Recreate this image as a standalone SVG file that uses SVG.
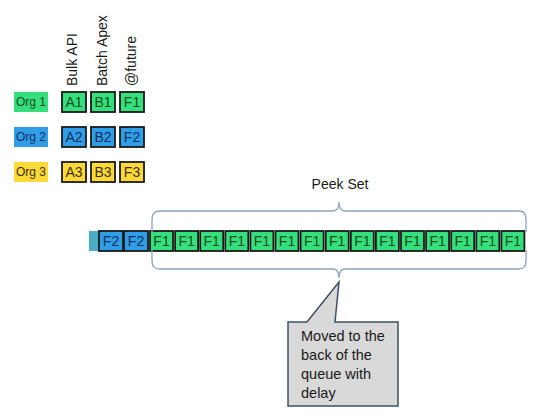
<svg xmlns="http://www.w3.org/2000/svg" width="540" height="420" viewBox="0 0 540 420">
<style>
text{font-family:"Liberation Sans",Arial,sans-serif}
.lbl{font-size:12px;text-anchor:middle}
.bx{stroke:#1a1a1a;stroke-width:1.8}
.g{fill:#35e07c}.b{fill:#2f9ee6}.y{fill:#ffd937}
.tg{fill:#0b4d22}.tb{fill:#0d2f5c}.ty{fill:#3d3000}
.bt{font-size:14px;text-anchor:middle}
.hd{font-size:14px;fill:#1a1a1a}
.brace{fill:none;stroke:#8fa3c2;stroke-width:1.3}
</style>
<defs>
<g id="qf1"><rect class="bx g" x="0" y="0" width="23" height="20"/><text class="bt tg" x="11.5" y="15">F1</text></g>
</defs>
<g id="headers">
<text class="hd" transform="translate(77,86) rotate(-90)">Bulk API</text>
<text class="hd" transform="translate(107,86) rotate(-90)">Batch Apex</text>
<text class="hd" transform="translate(136,86) rotate(-90)">@future</text>
</g>
<g id="org1"><rect class="g" x="14" y="92" width="34" height="20"/><text class="lbl tg" x="31" y="106">Org 1</text></g>
<g id="org2"><rect class="b" x="14" y="127" width="34" height="20"/><text class="lbl tb" x="31" y="141">Org 2</text></g>
<g id="org3"><rect class="y" x="14" y="162" width="34" height="20"/><text class="lbl ty" x="31" y="176">Org 3</text></g>
<g id="A1"><rect class="bx g" x="62" y="92" width="24" height="20"/><text class="bt tg" x="74" y="107">A1</text></g>
<g id="B1"><rect class="bx g" x="91" y="92" width="24" height="20"/><text class="bt tg" x="103" y="107">B1</text></g>
<g id="F1"><rect class="bx g" x="120" y="92" width="24" height="20"/><text class="bt tg" x="132" y="107">F1</text></g>
<g id="A2"><rect class="bx b" x="62" y="127" width="24" height="20"/><text class="bt tb" x="74" y="142">A2</text></g>
<g id="B2"><rect class="bx b" x="91" y="127" width="24" height="20"/><text class="bt tb" x="103" y="142">B2</text></g>
<g id="F2"><rect class="bx b" x="120" y="127" width="24" height="20"/><text class="bt tb" x="132" y="142">F2</text></g>
<g id="A3"><rect class="bx y" x="62" y="162" width="24" height="20"/><text class="bt ty" x="74" y="177">A3</text></g>
<g id="B3"><rect class="bx y" x="91" y="162" width="24" height="20"/><text class="bt ty" x="103" y="177">B3</text></g>
<g id="F3"><rect class="bx y" x="120" y="162" width="24" height="20"/><text class="bt ty" x="132" y="177">F3</text></g>
<g id="queue">
<rect x="89" y="231" width="10" height="20" fill="#4bacc6"/>
<rect class="bx b" x="99" y="231" width="24" height="20"/><text class="bt tb" x="111" y="246">F2</text>
<rect class="bx b" x="124" y="231" width="24" height="20"/><text class="bt tb" x="136" y="246">F2</text>
<use href="#qf1" x="150" y="231"/>
<use href="#qf1" x="175.1" y="231"/>
<use href="#qf1" x="200.2" y="231"/>
<use href="#qf1" x="225.3" y="231"/>
<use href="#qf1" x="250.4" y="231"/>
<use href="#qf1" x="275.5" y="231"/>
<use href="#qf1" x="300.6" y="231"/>
<use href="#qf1" x="325.7" y="231"/>
<use href="#qf1" x="350.8" y="231"/>
<use href="#qf1" x="375.9" y="231"/>
<use href="#qf1" x="401" y="231"/>
<use href="#qf1" x="426.1" y="231"/>
<use href="#qf1" x="451.2" y="231"/>
<use href="#qf1" x="476.3" y="231"/>
<use href="#qf1" x="501.4" y="231"/>
</g>
<g id="connectors">
<path class="brace" d="M152,232 L152,219 Q152,211 160,211 L333,211 Q339,211 339,202 Q339,211 345,211 L519,211 Q526,211 526,219 L526,232"/>
<path class="brace" d="M152,250 L152,261 Q152,269 160,269 L333,269 Q339,269 339,278 Q339,269 345,269 L519,269 Q526,269 526,261 L526,250"/>
</g>
<g id="peekset"><text x="340" y="189" font-size="14" text-anchor="middle" fill="#1a1a1a">Peek Set</text></g>
<g id="callout">
<path d="M288,322 L307,322 L339,282 L335,322 L398,322 L398,406 L288,406 Z" fill="#d9d9d9" stroke="#3f5068" stroke-width="1.5"/>
<text font-size="14.5" fill="#1a1a1a"><tspan x="301" y="341">Moved to the</tspan><tspan x="301" y="360">back of the</tspan><tspan x="301" y="379">queue with</tspan><tspan x="301" y="398">delay</tspan></text>
</g>
</svg>
